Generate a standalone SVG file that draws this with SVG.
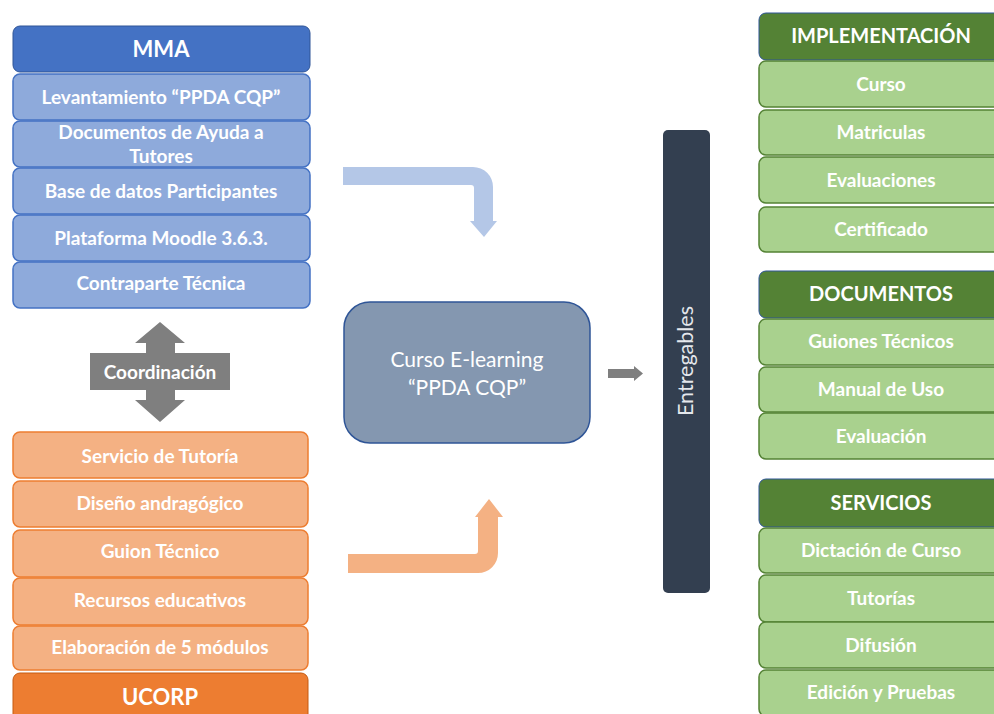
<svg xmlns="http://www.w3.org/2000/svg" width="994" height="714" viewBox="0 0 994 714">
<style>
text{font-family:Lato,"Open Sans","Liberation Sans",sans-serif;font-weight:bold;fill:#ffffff;text-anchor:middle}
.it{font-size:19px}
.hd{font-size:20px}
.bh{fill:#4472c4;stroke:#2f5597;stroke-width:1}
.bi{fill:#8eaadb;stroke:#4472c4;stroke-width:1.5}
.oh{fill:#ed7d31;stroke:#c55a11;stroke-width:1}
.oi{fill:#f4b183;stroke:#ed7d31;stroke-width:1.5}
.gh{fill:#548235;stroke:#2f5597;stroke-width:1}
.gi{fill:#a9d18e;stroke:#548235;stroke-width:1.5}
</style>
<rect width="994" height="714" fill="#ffffff"/>
<g id="mma">
<rect class="bh" x="13" y="26" width="297" height="46" rx="7"/>
<text class="hd" x="161" y="57" style="font-size:22px">MMA</text>
</g>
<g id="mma-1"><rect class="bi" x="13" y="74" width="297" height="46" rx="7"/><text class="it" x="161" y="104">Levantamiento “PPDA CQP”</text></g>
<g id="mma-2"><rect class="bi" x="13" y="121" width="297" height="46" rx="7"/><text class="it" x="161" y="139">Documentos de Ayuda a</text><text class="it" x="161" y="163">Tutores</text></g>
<g id="mma-3"><rect class="bi" x="13" y="168" width="297" height="46" rx="7"/><text class="it" x="161" y="198">Base de datos Participantes</text></g>
<g id="mma-4"><rect class="bi" x="13" y="215" width="297" height="46" rx="7"/><text class="it" x="161" y="245">Plataforma Moodle 3.6.3.</text></g>
<g id="mma-5"><rect class="bi" x="13" y="262" width="297" height="46" rx="7"/><text class="it" x="161" y="290">Contraparte Técnica</text></g>

<g id="coordinacion">
<polygon fill="#7f7f7f" points="160,322 185,343 175,343 175,353 230,353 230,390 175,390 175,400 185,400 160,422 135,400 146,400 146,390 90,390 90,353 146,353 146,343 135,343"/>
<text class="it" x="160" y="379" fill="#f2f2f2">Coordinación</text>
</g>

<g id="ucorp-1"><rect class="oi" x="13" y="432" width="295" height="46" rx="7"/><text class="it" x="160" y="463">Servicio de Tutoría</text></g>
<g id="ucorp-2"><rect class="oi" x="13" y="481" width="295" height="46" rx="7"/><text class="it" x="160" y="510">Diseño andragógico</text></g>
<g id="ucorp-3"><rect class="oi" x="13" y="530" width="295" height="47" rx="7"/><text class="it" x="160" y="558">Guion Técnico</text></g>
<g id="ucorp-4"><rect class="oi" x="13" y="578" width="295" height="47" rx="7"/><text class="it" x="160" y="607">Recursos educativos</text></g>
<g id="ucorp-5"><rect class="oi" x="13" y="626" width="295" height="44" rx="7"/><text class="it" x="160" y="654">Elaboración de 5 módulos</text></g>
<g id="ucorp">
<rect class="oh" x="13" y="673" width="295" height="60" rx="7"/>
<text class="hd" x="160" y="705" style="font-size:22px">UCORP</text>
</g>

<g id="connectors">
<path fill="#b4c7e7" d="M343,167 H473 A20,20 0 0 1 493,187 V221 H497 L484,237 L470,221 H474 V188 A3,3 0 0 0 471,185 H343 Z"/>
<path fill="#f4b183" d="M348,554 H475 A3,3 0 0 0 478,551 V517 H475 L489,499 L503,517 H498 V553 A20,20 0 0 1 478,573 H348 Z"/>
<polygon fill="#7f7f7f" points="608,369 634,369 634,366 643,373.5 634,381 634,378 608,378"/>
</g>

<g id="curso">
<rect x="344" y="302" width="246" height="141" rx="26" fill="#8497b0" stroke="#2f5597" stroke-width="1.5"/>
<text x="467" y="367" style="font-size:21px;font-weight:normal">Curso E-learning</text>
<text x="467" y="395" style="font-size:21px;font-weight:normal">“PPDA CQP”</text>
</g>

<g id="entregables">
<rect x="663" y="130" width="47" height="463" rx="5" fill="#333f50"/>
<text transform="translate(693,361) rotate(-90)" style="font-size:21.5px;font-weight:normal;fill:#e4e7ec">Entregables</text>
</g>

<g id="implementacion">
<rect class="gh" x="759" y="13" width="245" height="47" rx="7"/>
<text class="hd" x="881" y="43">IMPLEMENTACIÓN</text>
</g>
<g id="impl-1"><rect class="gi" x="759" y="61" width="245" height="46" rx="7"/><text class="it" x="881" y="91">Curso</text></g>
<g id="impl-2"><rect class="gi" x="759" y="110" width="245" height="45" rx="7"/><text class="it" x="881" y="139">Matriculas</text></g>
<g id="impl-3"><rect class="gi" x="759" y="157" width="245" height="46" rx="7"/><text class="it" x="881" y="187">Evaluaciones</text></g>
<g id="impl-4"><rect class="gi" x="759" y="207" width="245" height="45" rx="7"/><text class="it" x="881" y="236">Certificado</text></g>

<g id="documentos">
<rect class="gh" x="759" y="271" width="245" height="47" rx="7"/>
<text class="hd" x="881" y="301">DOCUMENTOS</text>
</g>
<g id="doc-1"><rect class="gi" x="759" y="319" width="245" height="46" rx="7"/><text class="it" x="881" y="348">Guiones Técnicos</text></g>
<g id="doc-2"><rect class="gi" x="759" y="367" width="245" height="45" rx="7"/><text class="it" x="881" y="396">Manual de Uso</text></g>
<g id="doc-3"><rect class="gi" x="759" y="413" width="245" height="46" rx="7"/><text class="it" x="881" y="443">Evaluación</text></g>

<g id="servicios">
<rect class="gh" x="759" y="479" width="245" height="48" rx="7"/>
<text class="hd" x="881" y="510">SERVICIOS</text>
</g>
<g id="serv-1"><rect class="gi" x="759" y="528" width="245" height="45" rx="7"/><text class="it" x="881" y="557">Dictación de Curso</text></g>
<g id="serv-2"><rect class="gi" x="759" y="575" width="245" height="47" rx="7"/><text class="it" x="881" y="605">Tutorías</text></g>
<g id="serv-3"><rect class="gi" x="759" y="622" width="245" height="46" rx="7"/><text class="it" x="881" y="652">Difusión</text></g>
<g id="serv-4"><rect class="gi" x="759" y="670" width="245" height="46" rx="7"/><text class="it" x="881" y="699">Edición y Pruebas</text></g>
</svg>
